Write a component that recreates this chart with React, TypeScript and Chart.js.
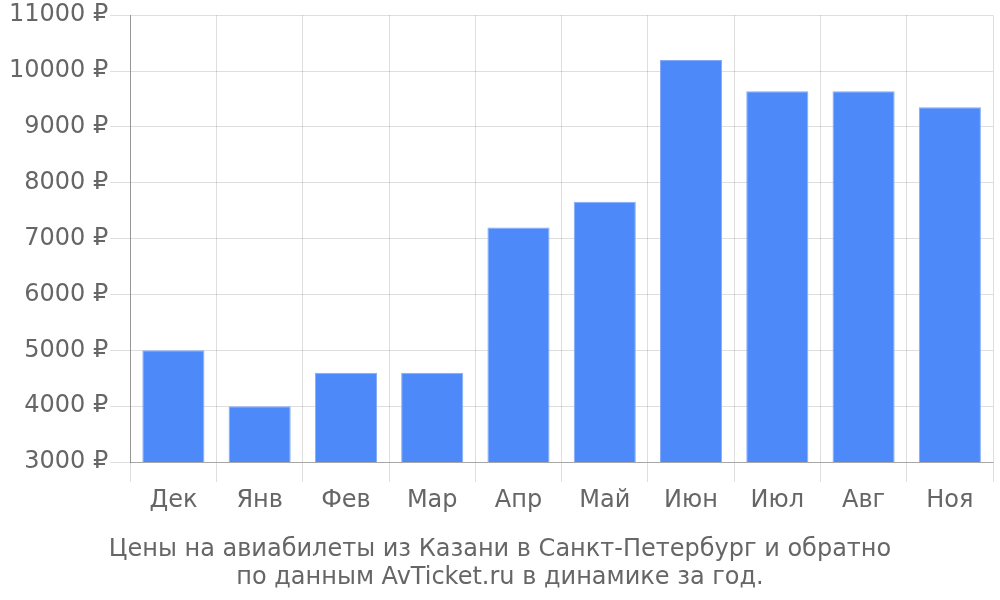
import React, { useEffect, useRef } from "react";
import { Chart, registerables } from "chart.js";

Chart.register(...registerables);

const categories = ["Дек", "Янв", "Фев", "Мар", "Апр", "Май", "Июн", "Июл", "Авг", "Ноя"];
const prices = [5000, 4000, 4600, 4600, 7200, 7660, 10200, 9640, 9640, 9350];
const titleLines = [
  "Цены на авиабилеты из Казани в Санкт-Петербург и обратно",
  "по данным AvTicket.ru в динамике за год.",
];
const yMin = 3000;
const yMax = 11000;
const yStep = 1000;

export default function App() {
  const ref = useRef<HTMLCanvasElement | null>(null);

  useEffect(() => {
    document.body.style.margin = "0";
    if (!ref.current) return;
    const font = { family: "'DejaVu Sans', sans-serif", size: 24 };
    const chart = new Chart(ref.current, {
      type: "bar",
      data: {
        labels: categories,
        datasets: [
          {
            data: prices,
            backgroundColor: "#4d89f9",
            borderColor: "#86acf7",
            borderWidth: 1,
          },
        ],
      },
      options: {
        animation: false,
        responsive: false,
        layout: { padding: { top: 0, right: 7, left: 7, bottom: 8 } },
        plugins: {
          legend: { display: false },
          tooltip: { enabled: false },
          title: {
            display: true,
            position: "bottom",
            text: titleLines,
            color: "#666",
            font: { ...font, weight: "normal", lineHeight: 1.17 },
            padding: { top: 17, bottom: 0 },
          },
        },
        scales: {
          x: {
            grid: { color: "rgba(0,0,0,0.13)", tickLength: 20, offset: true },
            border: { color: "rgba(0,0,0,0.25)" },
            ticks: { color: "#666", font, padding: 4 },
          },
          y: {
            min: yMin,
            max: yMax,
            grid: { color: "rgba(0,0,0,0.13)", tickLength: 20 },
            border: { color: "rgba(0,0,0,0.33)" },
            ticks: {
              stepSize: yStep,
              color: "#666",
              font: { ...font, lineHeight: 1.1 },
              padding: 2,
              callback: (v: any) => `${v} ₽`,
            },
          },
        },
      },
    });
    return () => chart.destroy();
  }, []);

  return (
    <div style={{ width: 1000, height: 600 }}>
      <canvas ref={ref} width={1000} height={600} style={{ display: "block" }} />
    </div>
  );
}
